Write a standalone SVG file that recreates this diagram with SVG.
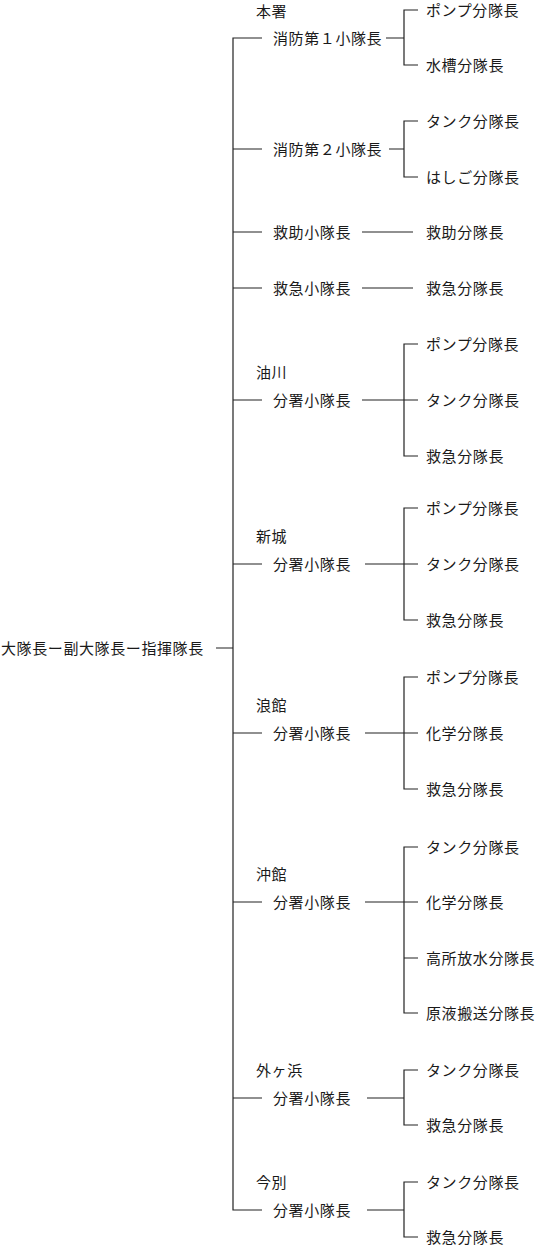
<svg xmlns="http://www.w3.org/2000/svg" width="536" height="1245" viewBox="0 0 536 1245">
<style>
text{font-family:"Noto Sans CJK JP","Noto Sans",sans-serif;font-size:15px;letter-spacing:0.6px;fill:#1a1a1a}
.c{fill:none;stroke:#222;stroke-width:1.2}
</style>
<rect width="536" height="1245" fill="#fff"/>
<g id="connectors" class="c">
<path d="M216 648H233M262 38H233V1210H262"/>
<path d="M233 149H262M233 232H262M233 288H262M233 400H262M233 564H262M233 733H262M233 902H262M233 1098H262"/>
<path d="M386 38H404M418 10H404V65H418"/>
<path d="M389 149H404M418 121H404V177H418"/>
<path d="M362 232H413M362 288H413"/>
<path d="M362 400H418M418 344H404V456H418"/>
<path d="M365 564H418M418 508H404V620H418"/>
<path d="M365 733H418M418 677H404V789H418"/>
<path d="M365 902H418M418 847H404V1013H418M404 958H418"/>
<path d="M367 1098H404M418 1070H404V1125H418"/>
<path d="M367 1210H404M418 1182H404V1237H418"/>
</g>
<g id="root"><text x="1" y="654">大隊長ー副大隊長ー指揮隊長</text></g>
<g id="honsho"><text x="256" y="17">本署</text></g>
<g id="sho1"><text x="273" y="44">消防第１小隊長</text></g>
<g id="sho1-a"><text x="426" y="16">ポンプ分隊長</text></g>
<g id="sho1-b"><text x="426" y="71">水槽分隊長</text></g>
<g id="sho2"><text x="273" y="155">消防第２小隊長</text></g>
<g id="sho2-a"><text x="426" y="127">タンク分隊長</text></g>
<g id="sho2-b"><text x="426" y="183">はしご分隊長</text></g>
<g id="kyujo"><text x="273" y="238">救助小隊長</text></g>
<g id="kyujo-a"><text x="426" y="238">救助分隊長</text></g>
<g id="kyukyu"><text x="273" y="294">救急小隊長</text></g>
<g id="kyukyu-a"><text x="426" y="294">救急分隊長</text></g>
<g id="aburakawa"><text x="256" y="378">油川</text><text x="273" y="406">分署小隊長</text></g>
<g id="aburakawa-a"><text x="426" y="350">ポンプ分隊長</text></g>
<g id="aburakawa-b"><text x="426" y="406">タンク分隊長</text></g>
<g id="aburakawa-c"><text x="426" y="462">救急分隊長</text></g>
<g id="shinjo"><text x="256" y="542">新城</text><text x="273" y="570">分署小隊長</text></g>
<g id="shinjo-a"><text x="426" y="514">ポンプ分隊長</text></g>
<g id="shinjo-b"><text x="426" y="570">タンク分隊長</text></g>
<g id="shinjo-c"><text x="426" y="626">救急分隊長</text></g>
<g id="namidate"><text x="256" y="711">浪館</text><text x="273" y="739">分署小隊長</text></g>
<g id="namidate-a"><text x="426" y="683">ポンプ分隊長</text></g>
<g id="namidate-b"><text x="426" y="739">化学分隊長</text></g>
<g id="namidate-c"><text x="426" y="795">救急分隊長</text></g>
<g id="okidate"><text x="256" y="880">沖館</text><text x="273" y="908">分署小隊長</text></g>
<g id="okidate-a"><text x="426" y="853">タンク分隊長</text></g>
<g id="okidate-b"><text x="426" y="908">化学分隊長</text></g>
<g id="okidate-c"><text x="426" y="964">高所放水分隊長</text></g>
<g id="okidate-d"><text x="426" y="1019">原液搬送分隊長</text></g>
<g id="sotogahama"><text x="256" y="1076">外ヶ浜</text><text x="273" y="1104">分署小隊長</text></g>
<g id="sotogahama-a"><text x="426" y="1076">タンク分隊長</text></g>
<g id="sotogahama-b"><text x="426" y="1131">救急分隊長</text></g>
<g id="imabetsu"><text x="256" y="1188">今別</text><text x="273" y="1216">分署小隊長</text></g>
<g id="imabetsu-a"><text x="426" y="1188">タンク分隊長</text></g>
<g id="imabetsu-b"><text x="426" y="1243">救急分隊長</text></g>
</svg>
